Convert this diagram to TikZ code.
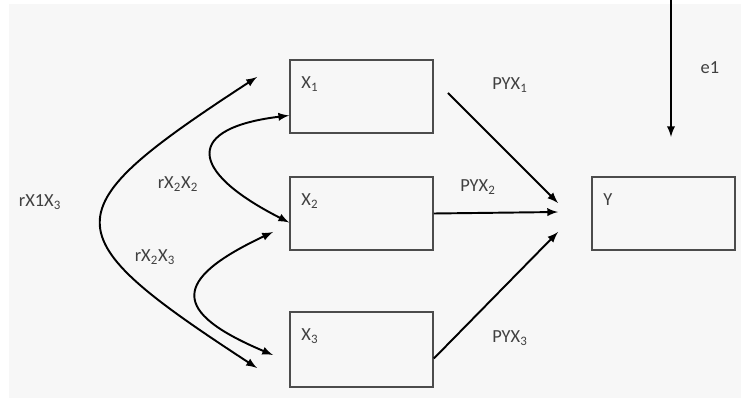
\documentclass[tikz,border=0pt]{standalone}
\usepackage{fontspec}
\setmainfont{Carlito}
\usepackage{tikz}
\usetikzlibrary{positioning, arrows}

\tikzset{
    varbox/.style={draw=black!70, line width=1pt, inner sep=0, minimum width=2.86cm, minimum height=1.46cm},
    lbl/.style={text=black!75, font=\fontsize{10.5}{12}\selectfont, inner sep=0},
    path/.style={-latex, line width=1.1pt},
    corr/.style={latex-latex, line width=1.1pt}
}

\begin{document}
\begin{tikzpicture}[x=0.02cm, y=-0.02cm]
    \useasboundingbox (0,0) rectangle (741,398);
    \fill[black!3] (9,4) rectangle (741,398);

    \node[varbox] (x1) at (361.5,96.5) {};
    \node[varbox] (x2) at (361.5,213.5) {};
    \node[varbox, minimum height=1.5cm] (x3) at (361.5,349.5) {};
    \node[varbox] (y) at (663.5,213.5) {};

    \node[lbl, anchor=north west] (x1l) at ([xshift=0.24cm, yshift=-0.34cm]x1.north west) {X\textsubscript{1}};
    \node[lbl, anchor=north west] (x2l) at ([xshift=0.24cm, yshift=-0.34cm]x2.north west) {X\textsubscript{2}};
    \node[lbl, anchor=north west] (x3l) at ([xshift=0.24cm, yshift=-0.34cm]x3.north west) {X\textsubscript{3}};
    \node[lbl, anchor=north west] (yl) at ([xshift=0.24cm, yshift=-0.34cm]y.north west) {Y};

    % ends of the paths into Y
    \coordinate (s1) at (448,93);
    \coordinate (t1) at (558,203);
    \coordinate (t2) at (558,212);
    \coordinate (t3) at (558,232);
    \coordinate (e1s) at (671,0);
    \coordinate (e1t) at (671,137);

    \draw[path] (s1) -- (t1);
    \draw[path] (x2.east) -- (t2);
    \draw[path] ([yshift=-0.18cm]x3.east) -- (t3);
    \draw[path] (e1s) -- (e1t);

    \node[lbl] (p1) at (510,85) {PYX\textsubscript{1}};
    \node[lbl] (p2) at (478,187) {PYX\textsubscript{2}};
    \node[lbl] (p3) at (510,338) {PYX\textsubscript{3}};
    \node[lbl] (e1) at (710,68) {e1};

    % correlations
    \coordinate (a1) at (257,77);
    \coordinate (a3) at (257,368);
    \draw[corr] (a1) .. controls (50,212) and (50,233) .. (a3);
    \draw[corr] ([yshift=-0.38cm]x1.west) .. controls (186,128) and (186,170) .. ([yshift=-0.18cm]x2.west);
    \coordinate (b2) at (273,232);
    \coordinate (b3) at (273,355);
    \draw[corr] (b3) .. controls (171,312) and (171,280) .. (b2);

    \node[lbl] (r13) at (40,202) {rX1X\textsubscript{3}};
    \node[lbl] (r12) at (178,184) {rX\textsubscript{2}X\textsubscript{2}};
    \node[lbl] (r23) at (155,257) {rX\textsubscript{2}X\textsubscript{3}};
\end{tikzpicture}
\end{document}
